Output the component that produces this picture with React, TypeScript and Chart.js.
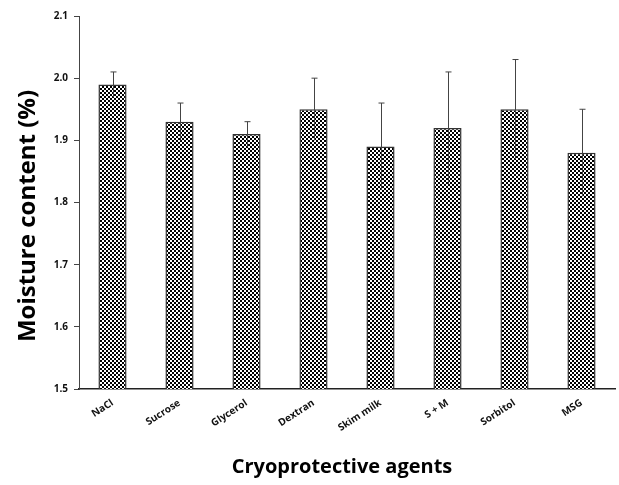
import React, { useEffect, useRef } from "react";
import { Chart, registerables } from "chart.js";

Chart.register(...registerables);

const categories = ["NaCl", "Sucrose", "Glycerol", "Dextran", "Skim milk", "S + M", "Sorbitol", "MSG"];
const moisture = [1.99, 1.93, 1.91, 1.95, 1.89, 1.92, 1.95, 1.88];
const errors = [0.02, 0.03, 0.02, 0.05, 0.07, 0.09, 0.08, 0.07];
const yTicks = [1.5, 1.6, 1.7, 1.8, 1.9, 2.0, 2.1];
const yTitle = "Moisture content (%)";
const xTitle = "Cryoprotective agents";

function makePattern(): CanvasPattern | string {
  const c = document.createElement("canvas");
  c.width = 4;
  c.height = 4;
  const ctx = c.getContext("2d");
  if (!ctx) return "#888";
  ctx.fillStyle = "#ffffff";
  ctx.fillRect(0, 0, 4, 4);
  ctx.fillStyle = "#000000";
  ctx.fillRect(0, 0, 2, 2);
  ctx.fillRect(2, 2, 2, 2);
  const p = ctx.createPattern(c, "repeat");
  return p || "#888";
}

const errorBarPlugin = {
  id: "errorBars",
  afterDatasetsDraw(chart: any) {
    const ctx = chart.ctx;
    const meta = chart.getDatasetMeta(0);
    const yScale = chart.scales.y;
    ctx.save();
    ctx.strokeStyle = "#444";
    ctx.lineWidth = 1;
    meta.data.forEach((bar: any, i: number) => {
      const x = Math.round(bar.x) + 0.5;
      const top = yScale.getPixelForValue(moisture[i] + errors[i]);
      const bot = yScale.getPixelForValue(moisture[i] - errors[i]);
      ctx.beginPath();
      ctx.moveTo(x, top);
      ctx.lineTo(x, bot);
      ctx.moveTo(x - 3, top);
      ctx.lineTo(x + 3, top);
      ctx.stroke();
    });
    ctx.restore();
  },
};

const titlesPlugin = {
  id: "customTitles",
  afterDraw(chart: any) {
    const ctx = chart.ctx;
    ctx.save();
    ctx.fillStyle = "#000";
    ctx.textAlign = "center";
    ctx.textBaseline = "middle";
    ctx.font = "bold 24px 'Open Sans', sans-serif";
    ctx.translate(28, 216);
    ctx.rotate(-Math.PI / 2);
    ctx.fillText(yTitle, 0, 0);
    ctx.restore();
    ctx.save();
    ctx.fillStyle = "#000";
    ctx.textAlign = "center";
    ctx.textBaseline = "middle";
    ctx.font = "bold 20px 'Open Sans', sans-serif";
    ctx.fillText(xTitle, 342, 467);
    ctx.restore();
  },
};

export default function App() {
  const ref = useRef<HTMLCanvasElement>(null);
  useEffect(() => {
    if (!ref.current) return;
    const chart = new Chart(ref.current, {
      type: "bar",
      data: {
        labels: categories,
        datasets: [
          {
            data: moisture,
            backgroundColor: makePattern() as any,
            borderColor: "#333",
            borderWidth: 1.5,
            categoryPercentage: 1,
            barPercentage: 0.42,
          },
        ],
      },
      options: {
        responsive: false,
        animation: false,
        layout: { padding: { top: 16, right: 4, left: 0, bottom: 0 } },
        plugins: { legend: { display: false }, tooltip: { enabled: false } },
        scales: {
          x: {
            grid: { drawOnChartArea: false, drawTicks: false },
            border: { display: true, color: "#222", width: 1.5 },
            ticks: {
              autoSkip: false,
              maxRotation: 33,
              minRotation: 33,
              padding: 8,
              color: "#111",
              font: { family: "'Open Sans', sans-serif", size: 10, weight: "bold" },
            },
            afterFit(scale: any) {
              scale.height = 96;
            },
          },
          y: {
            min: 1.5,
            max: 2.1,
            afterBuildTicks(scale: any) {
              scale.ticks = yTicks.map((v) => ({ value: v }));
            },
            grid: { drawOnChartArea: false, drawTicks: true, tickLength: 5, color: "#444" },
            border: { display: true, color: "#444", width: 1 },
            ticks: {
              padding: 6,
              color: "#111",
              callback: (v: any) => Number(v).toFixed(1),
              font: { family: "'Open Sans', sans-serif", size: 10, weight: "bold" },
            },
            afterFit(scale: any) {
              scale.width = 79;
            },
          },
        },
      },
      plugins: [errorBarPlugin, titlesPlugin],
    });
    return () => chart.destroy();
  }, []);
  return (
    <div style={{ position: "fixed", left: 0, top: 0, width: 619, height: 485, background: "#fff" }}>
      <canvas ref={ref} width={619} height={485} />
    </div>
  );
}
